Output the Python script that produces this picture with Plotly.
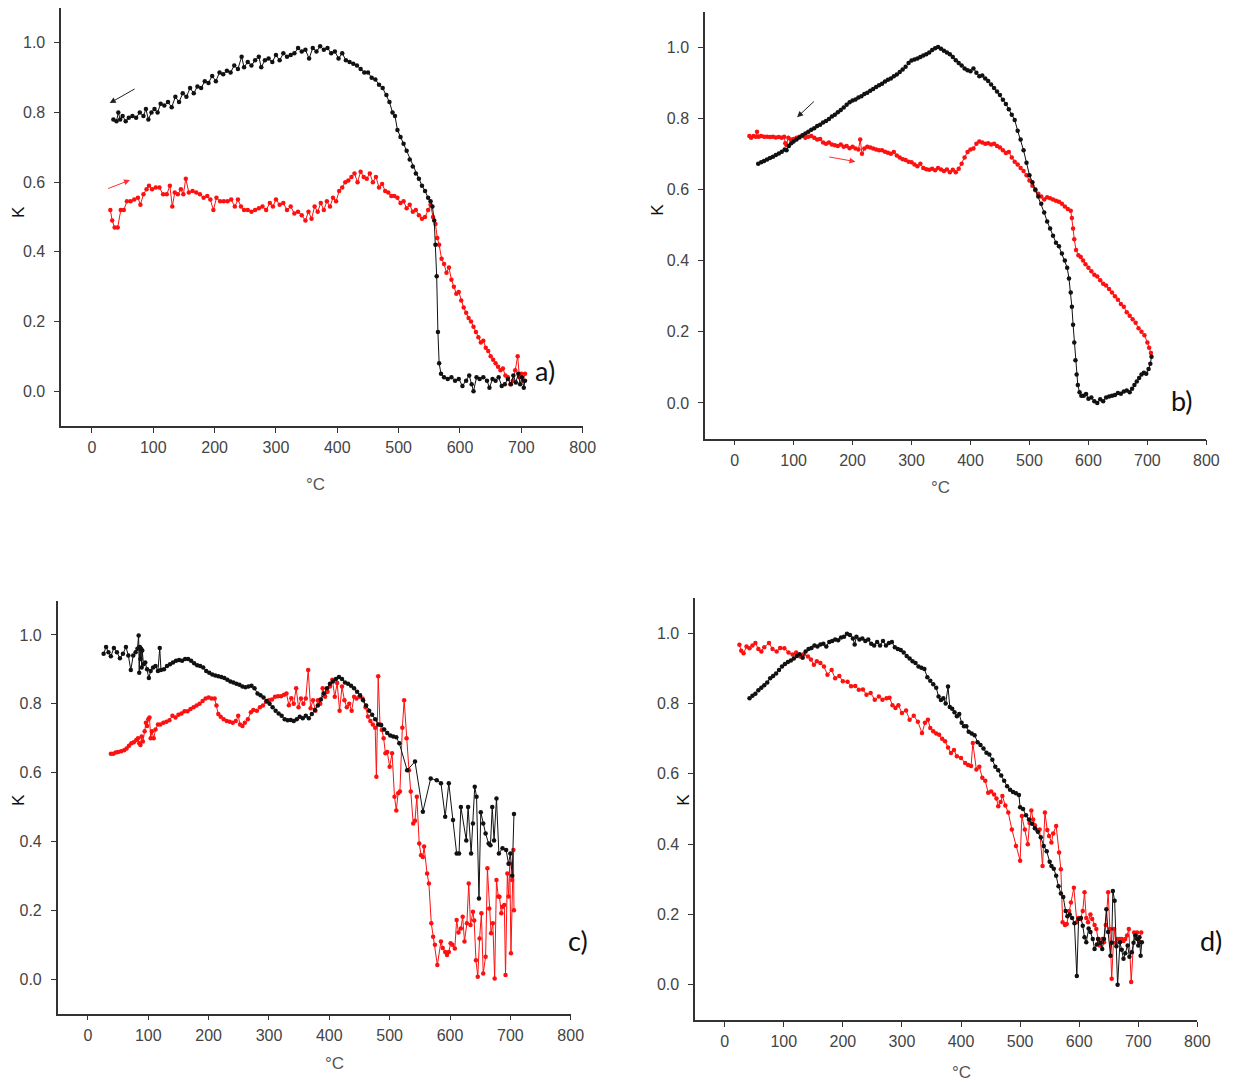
import plotly.graph_objects as go

# ---------------- Panel a ----------------
a_black_x = [35,40,43,46,50,55,60,66,72,78,84,88,92,97,102,107,112,118,124,130,136,142,148,154,160,166,172,178,184,190,196,202,208,214,220,226,232,238,244,248,254,260,266,272,276,282,288,294,300,306,312,318,324,330,336,342,348,354,360,366,372,378,384,390,396,402,408,414,420,426,432,438,444,450,456,462,468,474,480,485,490,494,498,503,508,513,518,523,528,533,538,543,548,552,555,558,560,562,564,566,569,574,580,586,592,598,604,610,615,619,622,627,632,638,644,648,653,658,663,668,673,678,683,687,691,695,698,701,704,706]
a_black_y = [0.78,0.775,0.80,0.78,0.79,0.775,0.785,0.79,0.785,0.80,0.79,0.81,0.78,0.80,0.81,0.80,0.825,0.82,0.83,0.815,0.845,0.83,0.855,0.845,0.87,0.855,0.875,0.87,0.89,0.885,0.905,0.89,0.915,0.91,0.92,0.915,0.935,0.925,0.96,0.93,0.945,0.935,0.95,0.96,0.93,0.95,0.955,0.945,0.965,0.95,0.97,0.96,0.965,0.97,0.985,0.975,0.98,0.955,0.985,0.975,0.99,0.98,0.985,0.97,0.975,0.955,0.97,0.95,0.945,0.94,0.935,0.925,0.915,0.915,0.90,0.895,0.88,0.87,0.85,0.83,0.80,0.79,0.75,0.73,0.71,0.69,0.665,0.645,0.625,0.61,0.59,0.575,0.555,0.545,0.53,0.49,0.42,0.33,0.17,0.08,0.05,0.04,0.035,0.04,0.03,0.035,0.015,0.03,0.045,0.02,0.0,0.04,0.035,0.04,0.03,0.01,0.035,0.03,0.04,0.015,0.02,0.035,0.02,0.045,0.025,0.05,0.02,0.04,0.01,0.03]
a_red_x = [30,33,37,42,47,52,57,63,69,75,79,84,89,93,98,104,110,116,122,127,131,135,140,145,149,153,158,164,170,176,182,188,193,198,203,209,215,221,227,233,238,243,248,254,260,266,272,278,284,290,295,300,306,312,318,324,330,336,342,348,353,358,363,368,373,378,383,388,393,398,403,408,413,418,423,428,433,438,443,448,453,458,463,468,473,478,483,488,493,498,503,508,513,518,523,528,533,538,543,548,552,556,560,563,566,570,574,578,582,586,590,594,598,602,606,610,614,618,622,626,630,634,638,642,646,650,654,658,662,666,670,674,678,682,686,690,694,697,700,703,706]
a_red_y = [0.52,0.49,0.47,0.47,0.52,0.52,0.545,0.545,0.55,0.555,0.535,0.565,0.58,0.59,0.58,0.585,0.585,0.565,0.565,0.59,0.53,0.57,0.565,0.58,0.565,0.61,0.57,0.575,0.57,0.565,0.555,0.56,0.55,0.52,0.555,0.545,0.545,0.545,0.55,0.53,0.55,0.53,0.52,0.52,0.515,0.52,0.525,0.53,0.52,0.54,0.53,0.55,0.535,0.54,0.52,0.53,0.51,0.515,0.505,0.49,0.515,0.495,0.53,0.515,0.54,0.52,0.545,0.53,0.555,0.545,0.575,0.585,0.60,0.605,0.615,0.625,0.60,0.63,0.615,0.61,0.625,0.60,0.615,0.585,0.595,0.575,0.57,0.56,0.56,0.555,0.54,0.545,0.525,0.535,0.515,0.52,0.505,0.495,0.50,0.52,0.535,0.50,0.48,0.44,0.42,0.38,0.365,0.34,0.355,0.32,0.30,0.28,0.285,0.26,0.24,0.225,0.21,0.20,0.185,0.17,0.155,0.14,0.145,0.125,0.115,0.10,0.09,0.08,0.07,0.06,0.065,0.045,0.04,0.02,0.03,0.06,0.10,0.04,0.05,0.03,0.05]

# ---------------- Panel b ----------------
b_black_x = [40,45,50,55,60,65,70,75,80,85,88,92,96,100,105,110,115,120,125,130,135,140,145,150,155,160,165,170,175,180,185,190,195,200,205,210,215,220,225,230,235,240,245,250,255,260,265,270,275,280,285,290,295,300,305,310,315,320,325,330,335,340,345,350,355,360,365,370,375,380,385,390,395,400,405,410,415,420,425,430,435,440,445,450,455,460,465,470,475,480,485,490,495,500,505,510,515,520,525,530,535,540,545,550,555,560,564,567,570,572,574,576,578,580,582,585,588,592,596,600,605,610,615,620,625,630,635,640,645,650,655,660,665,670,674,678,682,686,690,694,698,702,705,707]
b_black_y = [0.672,0.676,0.68,0.684,0.688,0.692,0.697,0.701,0.706,0.712,0.71,0.722,0.73,0.735,0.74,0.746,0.752,0.757,0.762,0.768,0.772,0.778,0.782,0.788,0.792,0.798,0.805,0.81,0.817,0.823,0.83,0.838,0.845,0.85,0.853,0.858,0.862,0.868,0.872,0.877,0.882,0.888,0.893,0.897,0.903,0.908,0.912,0.918,0.923,0.93,0.937,0.945,0.955,0.962,0.965,0.968,0.972,0.976,0.98,0.985,0.992,0.997,1.0,0.995,0.99,0.985,0.98,0.972,0.963,0.955,0.948,0.94,0.935,0.932,0.94,0.928,0.918,0.92,0.912,0.905,0.895,0.885,0.875,0.865,0.852,0.84,0.825,0.81,0.795,0.765,0.74,0.71,0.675,0.64,0.62,0.60,0.58,0.56,0.535,0.51,0.49,0.47,0.45,0.44,0.42,0.40,0.38,0.35,0.31,0.27,0.22,0.17,0.12,0.08,0.05,0.03,0.02,0.02,0.025,0.012,0.015,0.005,0.0,0.01,0.005,0.015,0.018,0.02,0.022,0.028,0.026,0.032,0.035,0.03,0.04,0.05,0.06,0.07,0.08,0.085,0.082,0.095,0.11,0.13]
b_red_x = [25,28,32,36,38,41,45,50,55,60,65,70,75,80,84,86,88,91,95,100,105,110,115,120,125,130,135,140,145,150,155,160,165,170,175,180,185,190,195,200,205,210,213,216,220,225,230,235,240,245,250,255,260,265,270,275,280,285,290,295,300,305,310,315,320,325,330,335,340,345,350,355,360,365,370,375,380,385,390,395,400,405,410,415,420,425,430,435,440,445,450,455,460,465,470,475,480,485,490,495,500,505,510,515,520,525,530,535,540,545,550,555,560,565,570,572,574,576,579,583,587,591,595,600,605,610,615,620,625,630,635,640,645,650,655,660,665,670,675,680,685,690,695,700,703,706]
b_red_y = [0.75,0.745,0.75,0.748,0.762,0.748,0.75,0.748,0.748,0.747,0.748,0.746,0.747,0.745,0.748,0.73,0.725,0.745,0.74,0.742,0.745,0.748,0.75,0.745,0.748,0.75,0.745,0.74,0.742,0.732,0.728,0.732,0.726,0.724,0.722,0.726,0.72,0.722,0.716,0.72,0.715,0.712,0.74,0.70,0.715,0.72,0.718,0.715,0.712,0.71,0.71,0.706,0.703,0.70,0.705,0.695,0.69,0.685,0.683,0.678,0.676,0.67,0.665,0.672,0.66,0.657,0.655,0.658,0.654,0.66,0.656,0.652,0.656,0.648,0.655,0.648,0.658,0.672,0.69,0.705,0.712,0.715,0.728,0.735,0.732,0.728,0.73,0.726,0.728,0.722,0.718,0.71,0.702,0.705,0.69,0.678,0.67,0.66,0.652,0.64,0.625,0.61,0.598,0.588,0.58,0.572,0.578,0.575,0.572,0.568,0.565,0.56,0.552,0.545,0.54,0.52,0.49,0.46,0.43,0.415,0.41,0.40,0.39,0.38,0.37,0.36,0.355,0.345,0.335,0.33,0.32,0.31,0.30,0.29,0.278,0.27,0.255,0.245,0.235,0.225,0.21,0.20,0.19,0.17,0.155,0.14]

# ---------------- Panel c ----------------
c_black_x = [26,30,34,38,43,48,53,58,63,67,71,75,79,82,84,85,86,87,88,89,90,92,95,98,101,104,108,112,116,119,121,126,131,136,141,146,151,156,161,166,171,176,181,186,191,196,201,206,211,216,221,226,231,236,241,246,251,256,261,266,271,276,281,286,291,296,301,306,311,316,321,326,331,336,341,346,351,356,361,366,371,376,381,386,391,396,401,406,411,416,421,426,431,436,441,446,451,456,461,466,471,476,481,486,491,496,501,506,511,516,529,542,555,568,578,585,592,598,605,611,615,618,627,630,635,638,641,644,648,651,655,659,664,667,670,673,677,681,687,693,697,700,703,706]
c_black_y = [0.945,0.965,0.95,0.938,0.962,0.95,0.932,0.945,0.965,0.94,0.898,0.94,0.95,0.96,0.998,0.89,0.965,0.93,0.96,0.905,0.955,0.915,0.92,0.90,0.875,0.895,0.905,0.91,0.895,0.962,0.898,0.90,0.91,0.915,0.92,0.925,0.927,0.925,0.93,0.93,0.925,0.918,0.912,0.91,0.905,0.895,0.89,0.885,0.882,0.88,0.878,0.875,0.87,0.865,0.862,0.858,0.855,0.85,0.848,0.85,0.852,0.845,0.83,0.825,0.818,0.808,0.80,0.79,0.78,0.772,0.765,0.755,0.752,0.753,0.75,0.755,0.762,0.758,0.765,0.758,0.77,0.782,0.795,0.812,0.83,0.845,0.858,0.865,0.872,0.878,0.872,0.862,0.858,0.852,0.845,0.835,0.825,0.81,0.795,0.78,0.768,0.755,0.74,0.738,0.725,0.715,0.708,0.705,0.703,0.685,0.607,0.632,0.486,0.583,0.578,0.569,0.472,0.569,0.462,0.365,0.365,0.50,0.403,0.50,0.365,0.452,0.559,0.53,0.234,0.485,0.452,0.423,0.394,0.389,0.50,0.403,0.525,0.365,0.38,0.375,0.335,0.365,0.30,0.48]
c_red_x = [38,42,46,50,55,60,64,68,72,76,80,83,85,87,89,91,94,96,98,100,102,104,106,109,112,116,120,125,130,135,140,145,150,155,160,165,170,175,180,185,190,195,200,205,210,213,216,220,225,230,235,240,245,249,252,256,260,265,270,274,280,285,290,295,300,305,310,315,320,325,329,333,337,341,345,349,353,357,361,365,369,373,377,381,385,389,393,397,401,405,409,413,417,421,425,429,433,437,441,445,450,455,460,464,468,472,476,478,481,484,487,490,493,496,500,504,508,511,514,517,521,524,528,532,535,539,542,545,549,552,555,557,562,565,569,572,575,579,585,588,592,595,598,601,604,608,611,614,618,621,624,628,631,634,638,640,643,646,649,652,655,659,662,665,668,671,674,677,680,682,685,687,690,692,695,697,699,701,703,705,706]
c_red_y = [0.655,0.655,0.658,0.66,0.662,0.665,0.67,0.678,0.685,0.688,0.695,0.70,0.685,0.68,0.705,0.69,0.72,0.745,0.735,0.755,0.76,0.70,0.72,0.70,0.725,0.74,0.74,0.745,0.748,0.752,0.765,0.76,0.768,0.772,0.778,0.778,0.785,0.79,0.795,0.80,0.808,0.815,0.818,0.815,0.815,0.795,0.77,0.762,0.755,0.75,0.748,0.745,0.75,0.765,0.74,0.735,0.745,0.755,0.775,0.782,0.78,0.79,0.795,0.805,0.81,0.812,0.82,0.822,0.822,0.826,0.83,0.796,0.816,0.80,0.845,0.79,0.815,0.80,0.815,0.898,0.787,0.81,0.78,0.81,0.80,0.845,0.82,0.835,0.85,0.87,0.82,0.86,0.78,0.85,0.81,0.79,0.80,0.78,0.82,0.815,0.82,0.815,0.79,0.763,0.75,0.74,0.73,0.588,0.88,0.74,0.724,0.70,0.656,0.66,0.617,0.656,0.53,0.49,0.54,0.545,0.73,0.81,0.70,0.607,0.545,0.452,0.46,0.53,0.394,0.36,0.355,0.385,0.307,0.278,0.162,0.123,0.10,0.041,0.109,0.09,0.079,0.07,0.079,0.104,0.10,0.089,0.172,0.135,0.147,0.181,0.109,0.162,0.278,0.157,0.196,0.17,0.055,0.007,0.118,0.191,0.016,0.065,0.322,0.205,0.133,0.162,0.002,0.288,0.24,0.239,0.191,0.21,0.215,0.012,0.307,0.24,0.336,0.075,0.288,0.375,0.20]

# ---------------- Panel d ----------------
d_black_x = [42,47,52,57,62,67,72,77,82,87,92,97,102,107,112,117,122,127,132,137,142,147,152,157,162,167,172,177,182,187,192,197,202,207,212,217,220,223,228,233,238,243,248,253,258,263,268,273,278,283,288,293,298,303,308,313,318,323,328,333,338,343,348,353,358,362,366,370,374,378,381,385,389,393,397,401,405,409,413,418,423,428,433,438,443,448,453,458,463,468,473,478,483,488,493,498,500,505,510,515,520,525,530,535,540,545,550,553,557,561,565,569,573,577,580,584,588,592,596,599,603,606,609,612,616,619,623,626,630,632,636,639,642,646,649,653,655,657,660,663,665,669,672,675,678,682,685,689,692,695,698,700,702,704,706]
d_black_y = [0.815,0.822,0.828,0.838,0.845,0.852,0.86,0.872,0.878,0.885,0.895,0.905,0.912,0.918,0.922,0.928,0.935,0.94,0.93,0.948,0.955,0.958,0.965,0.962,0.968,0.97,0.962,0.975,0.978,0.982,0.98,0.988,0.99,0.998,0.995,0.985,0.968,0.99,0.982,0.985,0.978,0.982,0.97,0.965,0.975,0.965,0.978,0.965,0.972,0.975,0.96,0.955,0.952,0.945,0.935,0.928,0.92,0.915,0.905,0.902,0.898,0.875,0.865,0.855,0.845,0.82,0.81,0.815,0.80,0.848,0.79,0.785,0.775,0.764,0.77,0.745,0.735,0.735,0.72,0.715,0.71,0.69,0.682,0.672,0.66,0.655,0.64,0.62,0.61,0.595,0.58,0.565,0.555,0.548,0.545,0.54,0.505,0.50,0.482,0.47,0.458,0.445,0.435,0.42,0.395,0.38,0.35,0.338,0.33,0.31,0.28,0.26,0.25,0.21,0.195,0.20,0.19,0.175,0.025,0.187,0.19,0.168,0.135,0.121,0.16,0.15,0.13,0.102,0.115,0.13,0.12,0.102,0.13,0.215,0.15,0.083,0.12,0.267,0.239,0.11,0.0,0.121,0.10,0.074,0.09,0.112,0.08,0.093,0.12,0.14,0.13,0.112,0.135,0.083,0.121]
d_red_x = [25,28,32,37,42,47,52,57,62,67,75,81,88,94,101,108,115,121,128,134,141,146,151,156,162,168,174,181,187,194,200,208,214,221,227,234,240,247,254,261,267,274,279,284,289,294,300,307,313,320,327,334,339,344,348,353,358,363,368,373,378,383,388,393,400,407,412,417,420,426,431,436,441,446,451,456,460,463,467,470,475,480,486,493,500,503,508,513,516,519,522,525,529,533,538,542,546,549,553,556,561,566,569,572,576,579,583,586,591,596,599,602,606,609,612,615,619,622,626,629,632,635,639,642,645,649,652,655,659,662,665,669,672,675,678,681,684,688,693,698,702,705]
d_red_y = [0.967,0.95,0.943,0.962,0.957,0.965,0.972,0.955,0.948,0.96,0.972,0.955,0.948,0.958,0.957,0.945,0.939,0.945,0.934,0.94,0.934,0.925,0.91,0.92,0.915,0.905,0.882,0.895,0.872,0.878,0.863,0.862,0.849,0.85,0.839,0.84,0.825,0.83,0.811,0.82,0.811,0.815,0.816,0.795,0.787,0.795,0.773,0.78,0.754,0.765,0.748,0.716,0.745,0.754,0.73,0.721,0.715,0.711,0.70,0.693,0.675,0.659,0.668,0.65,0.645,0.631,0.625,0.622,0.688,0.612,0.62,0.589,0.58,0.546,0.55,0.541,0.53,0.508,0.52,0.537,0.51,0.49,0.442,0.395,0.353,0.48,0.442,0.40,0.46,0.496,0.47,0.454,0.44,0.442,0.338,0.49,0.44,0.423,0.405,0.43,0.452,0.376,0.329,0.178,0.17,0.173,0.21,0.234,0.276,0.178,0.19,0.187,0.21,0.263,0.19,0.178,0.2,0.187,0.17,0.159,0.13,0.112,0.13,0.121,0.17,0.263,0.159,0.017,0.159,0.12,0.13,0.13,0.13,0.125,0.13,0.14,0.159,0.008,0.149,0.149,0.121,0.149]

# ---------------- Geometry (pixels of a 1235 x 1082 page) ----------------
W, H = 1235, 1082
SX = 1 / 0.99   # horizontal compensation observed in the rendered page
panels = {
    "a": dict(x0=61.3, x1=583, y0=8, y1=426),
    "b": dict(x0=705.5, x1=1207, y0=11.5, y1=438.5),
    "c": dict(x0=57.8, x1=571, y0=600.5, y1=1013.5),
    "d": dict(x0=695.5, x1=1198, y0=598, y1=1020),
}
data = {
    "a": (a_black_x, a_black_y, a_red_x, a_red_y),
    "b": (b_black_x, b_black_y, b_red_x, b_red_y),
    "c": (c_black_x, c_black_y, c_red_x, c_red_y),
    "d": (d_black_x, d_black_y, d_red_x, d_red_y),
}

fig = go.Figure()
layout = dict(
    width=W, height=H, margin=dict(l=0, r=0, t=0, b=0),
    paper_bgcolor="white", plot_bgcolor="white", showlegend=False,
    font=dict(family="Liberation Sans, Arial, sans-serif", size=16, color="#444444"),
)
annotations = []
TICKX = [0, 100, 200, 300, 400, 500, 600, 700, 800]
TICKY = [0.0, 0.2, 0.4, 0.6, 0.8, 1.0]

for i, key in enumerate(["a", "b", "c", "d"]):
    n = "" if i == 0 else str(i + 1)
    g = panels[key]
    bx, by, rx, ry = data[key]
    xa, ya = "x" + n, "y" + n
    fig.add_trace(go.Scatter(x=rx, y=ry, xaxis=xa, yaxis=ya, mode="lines+markers",
                             line=dict(color="#ff1010", width=1),
                             marker=dict(color="#ff1010", size=4.5)))
    fig.add_trace(go.Scatter(x=bx, y=by, xaxis=xa, yaxis=ya, mode="lines+markers",
                             line=dict(color="#111111", width=1),
                             marker=dict(color="#111111", size=4.5)))
    common = dict(showgrid=False, zeroline=False, showline=True, linecolor="#333333",
                  linewidth=1.6, ticks="outside", ticklen=5, tickwidth=1.2,
                  tickcolor="#333333", tickfont=dict(size=16, color="#444444"))
    layout["xaxis" + n] = dict(domain=[g["x0"] * SX / W, g["x1"] * SX / W], range=[-50, 800],
                               anchor=ya, tickvals=TICKX, ticktext=[str(t) for t in TICKX],
                               ticklabelstandoff=1, **common)
    layout["yaxis" + n] = dict(domain=[1 - g["y1"] / H, 1 - g["y0"] / H], range=[-0.1, 1.1],
                               anchor=xa, tickvals=TICKY, ticktext=["%.1f" % t for t in TICKY],
                               ticklabelstandoff=6, **common)

# axis titles and panel labels (pixel positions)
texts = [
    ("°C", 316, 484, 0, 17, "#555555"), ("K", 18, 212, -90, 17, "#111111"), ("a)", 545, 370, 0, 27, "#111111"),
    ("°C", 941, 488, 0, 17, "#555555"), ("K", 657, 210, -90, 17, "#111111"), ("b)", 1183, 400, 0, 27, "#111111"),
    ("°C", 335, 1063, 0, 17, "#555555"), ("K", 18, 800, -90, 17, "#111111"), ("c)", 578, 940, 0, 27, "#111111"),
    ("°C", 962, 1072, 0, 17, "#555555"), ("K", 683, 800, -90, 17, "#111111"), ("d)", 1212, 940, 0, 27, "#111111"),
]
for t, px, py, ang, sz, col in texts:
    fam = "Lato, Open Sans, sans-serif" if t.endswith(")") else "Liberation Sans, Arial, sans-serif"
    annotations.append(dict(text=t, x=px * SX / W, y=1 - py / H, xref="paper", yref="paper",
                            showarrow=False, textangle=ang, xanchor="center", yanchor="middle",
                            font=dict(size=sz, color=col, family=fam)))

# direction arrows (data coordinates)
arrows = [
    ("x", "y", 72, 0.870, 29, 0.827, "#222222"),
    ("x", "y", 24, 0.580, 62, 0.606, "#ff3030"),
    ("x2", "y2", 137, 0.851, 106, 0.803, "#222222"),
    ("x2", "y2", 158, 0.692, 205, 0.678, "#ff3030"),
]
for xr, yr, tx, ty, hx, hy, col in arrows:
    annotations.append(dict(x=hx, y=hy, ax=tx, ay=ty, xref=xr, yref=yr, axref=xr, ayref=yr,
                            showarrow=True, arrowhead=2, arrowsize=1.2, arrowwidth=1,
                            arrowcolor=col, text=""))

layout["annotations"] = annotations
fig.update_layout(**layout)
fig.write_html("out.html")
